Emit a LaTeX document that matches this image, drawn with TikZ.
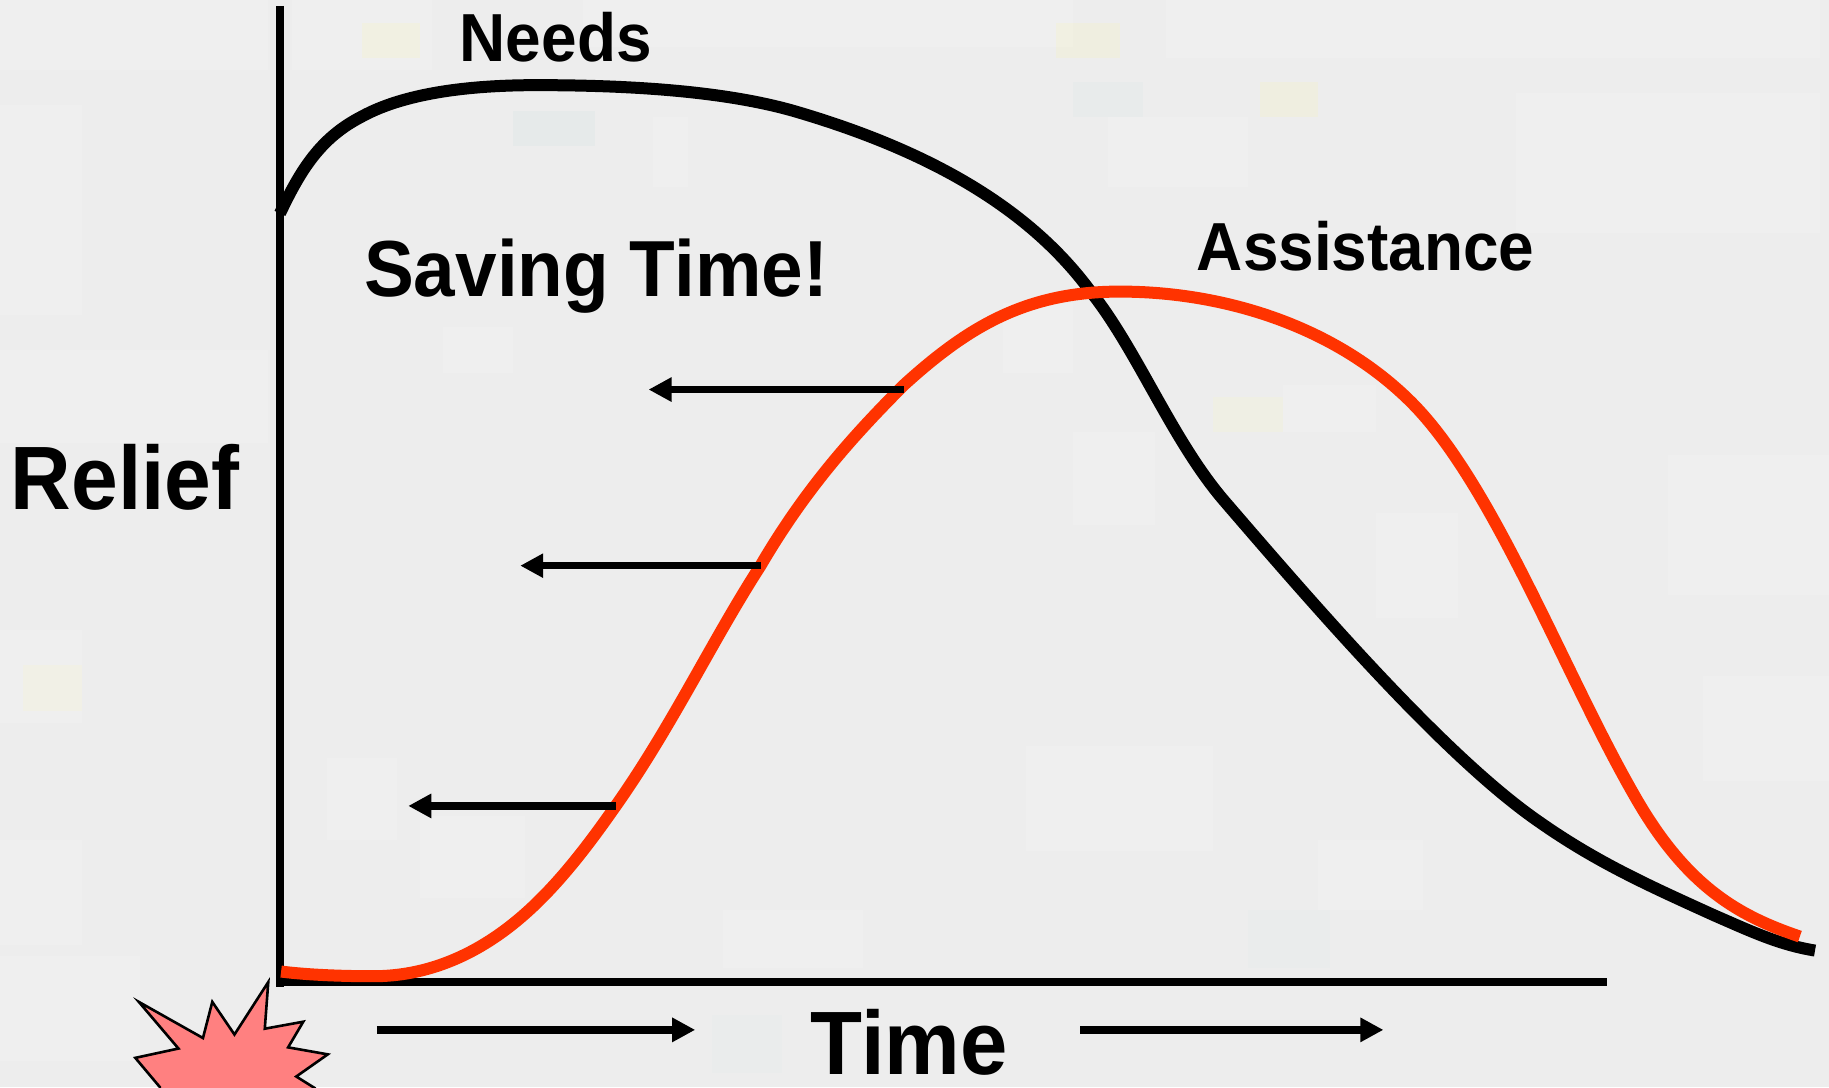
\documentclass[tikz,border=0pt]{standalone}
\usepackage{fontspec}
\usepackage{graphicx}
\setmainfont{Liberation Sans}
\usetikzlibrary{arrows.meta}
\definecolor{bgc}{HTML}{EDEDED}
\definecolor{redc}{HTML}{FF3300}
\definecolor{starc}{HTML}{FF8080}
\newcommand{\cond}[2]{\scalebox{#1}[1]{#2}}
\tikzset{
  lbl/.style={inner sep=0pt,anchor=base west,font=\bfseries},
  curveline/.style={line width=12pt},
  axisline/.style={line width=7.8pt,black},
  ptr/.style={line width=7.5pt,black,-{Triangle[length=23pt,width=23pt]}},
  patch/.style={fill=white,fill opacity=0.16,draw=none},
  tint/.style={fill=#1,fill opacity=0.15,draw=none}
}
\begin{document}
\begin{tikzpicture}[x=1.16645pt,y=-1.16631pt]
\useasboundingbox (0,0) rectangle (1568,932);
\clip (0,0) rectangle (1568,932);
\fill[bgc] (0,0) rectangle (1568,932);
% mottled backdrop
\foreach \a/\b/\c/\d in {0/0/230/60,0/90/70/180,0/300/230/80,250/0/120/60,500/0/420/40,
 1000/0/560/50,1300/80/260/120,1430/390/138/120,1460/580/108/90,880/640/160/90,1130/720/90/60,
 360/700/90/70,280/650/60/70,0/540/70/80,0/720/70/90,620/780/120/50,380/280/60/40,920/370/70/80,
 1180/440/70/90,860/260/60/60,1100/330/80/40,950/100/120/60,560/100/30/60,0/820/120/90}{
  \fill[patch] (\a,\b) rectangle ++(\c,\d);
}
\fill[tint=yellow!40] (1080,70) rectangle ++(50,30);
\fill[tint=yellow!40] (905,20) rectangle ++(55,30);
\fill[tint=yellow!40] (310,20) rectangle ++(50,30);
\fill[tint=teal!25] (440,95) rectangle ++(70,30);
\fill[tint=teal!20] (920,70) rectangle ++(60,30);
\fill[tint=yellow!30] (1040,340) rectangle ++(60,30);
\fill[tint=teal!15] (610,870) rectangle ++(60,50);
\fill[tint=teal!15] (1070,780) rectangle ++(70,50);
\fill[tint=yellow!30] (20,570) rectangle ++(50,40);

\coordinate (ytop) at (240,5);
\coordinate (ybot) at (240,846);
\coordinate (xleft) at (240,842);
\coordinate (xright) at (1378,842);
\draw[axisline] (ytop) -- (ybot);
\draw[axisline] (xleft) -- (xright);

\draw[curveline,black] (240,183)
 .. controls (258,145) and (275,118) .. (310,100)
 .. controls (350,78) and (410,73) .. (460,73)
 .. controls (540,73) and (620,78) .. (680,95)
 .. controls (790,127) and (880,175) .. (935,250)
 .. controls (975,300) and (1005,378) .. (1050,430)
 .. controls (1130,523) and (1240,650) .. (1320,705)
 .. controls (1370,740) and (1415,760) .. (1470,785)
 .. controls (1500,798) and (1525,810) .. (1556,815);
\draw[curveline,redc] (241,833)
 .. controls (265,836) and (295,837) .. (320,837)
 .. controls (365,837) and (405,820) .. (440,792)
 .. controls (470,768) and (497,735) .. (525,695)
 .. controls (575,625) and (610,550) .. (652,485)
 .. controls (690,420) and (730,375) .. (775,330)
 .. controls (830,280) and (880,250) .. (960,250)
 .. controls (1050,250) and (1145,280) .. (1210,345)
 .. controls (1280,415) and (1340,575) .. (1400,680)
 .. controls (1445,760) and (1490,785) .. (1543,803);

\coordinate (a1s) at (775,334); \coordinate (a1e) at (556,334);
\coordinate (a2s) at (652,485); \coordinate (a2e) at (446,485);
\coordinate (a3s) at (528,691); \coordinate (a3e) at (350,691);
\coordinate (a4s) at (323,883); \coordinate (a4e) at (596,883);
\coordinate (a5s) at (926,883); \coordinate (a5e) at (1186,883);
\draw[ptr] (a1s) -- (a1e);
\draw[ptr] (a2s) -- (a2e);
\draw[ptr] (a3s) -- (a3e);
\draw[ptr] (a4s) -- (a4e);
\draw[ptr] (a5s) -- (a5e);

\draw[fill=starc,draw=black,line width=2.6pt,line join=miter]
 (119,859) -- (174,890) -- (182,859) -- (201,887) -- (230,842) -- (227,882) -- (260,876) -- (247,898) -- (281,904) -- (254,923) -- (270,933) -- (270,945) -- (137,945) -- (137,932) -- (116,907) -- (153,899) -- cycle;

\node[lbl] (relief) at (9,437) {\fontsize{90}{90}\selectfont\cond{.933}{Relief}};
\node[lbl] (time) at (695,921) {\fontsize{90}{90}\selectfont\cond{.945}{Time}};
\node[lbl] (saving) at (312,254) {\fontsize{79.5}{80}\selectfont\cond{.94}{Saving Time!}};
\node[lbl] (needs) at (394,53) {\fontsize{68}{68}\selectfont\cond{.94}{Needs}};
\node[lbl] (assist) at (1026,232) {\fontsize{68}{68}\selectfont\cond{.94}{Assistance}};
\end{tikzpicture}
\end{document}
